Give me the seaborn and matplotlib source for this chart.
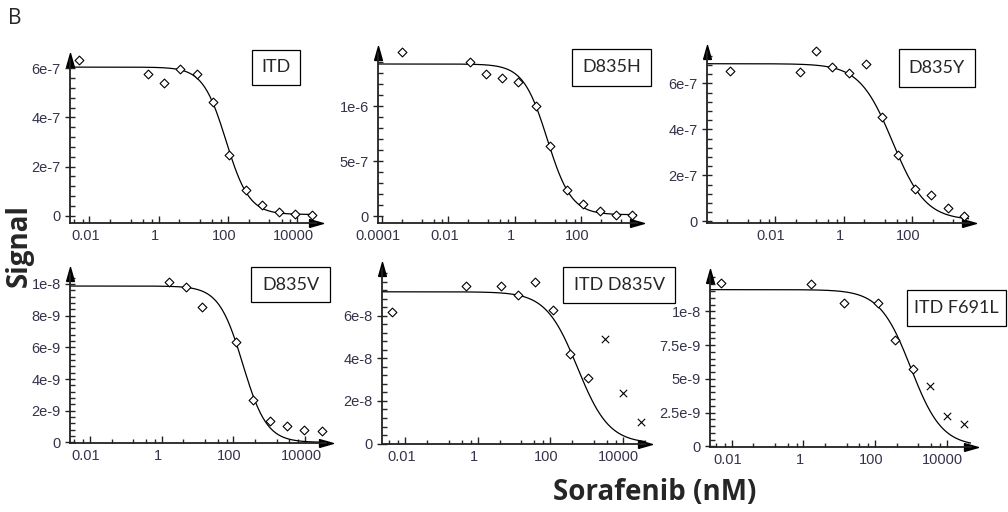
import numpy as np
import matplotlib
matplotlib.use("Agg")
import matplotlib.pyplot as plt
import matplotlib.transforms as mtransforms
from matplotlib.ticker import FixedLocator, MultipleLocator, FuncFormatter, NullFormatter
from matplotlib.patches import Rectangle
import seaborn as sns

# panel titles
panels = ["ITD", "D835H", "D835Y", "D835V", "ITD D835V", "ITD F691L"]

# sorafenib (nM) and signal
itd_conc = [0.005, 0.51, 1.48, 4.3, 12.6, 38, 110, 331, 1000, 2950, 8700, 26900]
itd_sig = [6.34e-7, 5.78e-7, 5.41e-7, 5.96e-7, 5.78e-7, 4.64e-7, 2.46e-7, 1.06e-7, 0.42e-7, 0.15e-7, 0.08e-7, 0.04e-7]

d835h_conc = [0.0004, 0.045, 0.135, 0.42, 1.26, 4.2, 11.7, 37, 112, 363, 1100, 3310]
d835h_sig = [1.494e-6, 1.40e-6, 1.297e-6, 1.255e-6, 1.221e-6, 1.006e-6, 0.642e-6, 0.236e-6, 0.112e-6, 0.045e-6, 0.015e-6, 0.015e-6]

d835y_conc = [0.00049, 0.054, 0.16, 0.47, 1.41, 4.5, 12.9, 39, 123, 355, 1100, 3240]
d835y_sig = [6.53e-7, 6.50e-7, 7.40e-7, 6.73e-7, 6.45e-7, 6.84e-7, 4.54e-7, 2.89e-7, 1.43e-7, 1.17e-7, 0.58e-7, 0.22e-7]

d835v_conc = [1.55, 4.6, 13.5, 120, 339, 1070, 3090, 9550, 28800]
d835v_sig = [10.1e-9, 9.83e-9, 8.54e-9, 6.32e-9, 2.66e-9, 1.34e-9, 1.05e-9, 0.77e-9, 0.71e-9]

itd_d835v_conc = [0.0043, 0.46, 4.3, 12.6, 38, 117, 355, 1070]
itd_d835v_sig = [6.15e-8, 7.37e-8, 7.41e-8, 6.96e-8, 7.57e-8, 6.28e-8, 4.2e-8, 3.08e-8]
itd_d835v_excl_conc = [3310, 10000, 30900]
itd_d835v_excl_sig = [4.9e-8, 2.35e-8, 1.01e-8]

itd_f691l_conc = [0.005, 1.58, 13.5, 120, 372, 1150]
itd_f691l_sig = [12.12e-9, 12.02e-9, 10.6e-9, 10.6e-9, 7.9e-9, 5.7e-9]
itd_f691l_excl_conc = [3470, 10000, 30200]
itd_f691l_excl_sig = [4.44e-9, 2.25e-9, 1.65e-9]

# fitted dose-response curves (top, bottom, log10 IC50, hill slope)
fit_top = [6.05e-7, 1.385e-6, 6.86e-7, 9.87e-9, 7.12e-8, 1.16e-8]
fit_bottom = [5e-9, 1.5e-8, 5e-9, 0, 0, 0]
fit_logic50 = [1.95, 0.98, 1.43, 2.26, 2.75, 3.0]
fit_hill = [1.3, 1.2, 0.9, 1.3, 1.0, 1.0]

conc = [itd_conc, d835h_conc, d835y_conc, d835v_conc, itd_d835v_conc, itd_f691l_conc]
sig = [itd_sig, d835h_sig, d835y_sig, d835v_sig, itd_d835v_sig, itd_f691l_sig]
excl_conc = [[], [], [], [], itd_d835v_excl_conc, itd_f691l_excl_conc]
excl_sig = [[], [], [], [], itd_d835v_excl_sig, itd_f691l_excl_sig]

# y ticks
ymajor = [[0, 2e-7, 4e-7, 6e-7], [0, 5e-7, 1e-6], [0, 2e-7, 4e-7, 6e-7],
          [0, 2e-9, 4e-9, 6e-9, 8e-9, 1e-8], [0, 2e-8, 4e-8, 6e-8],
          [0, 2.5e-9, 5e-9, 7.5e-9, 1e-8]]
yminor = [4e-8, 1e-7, 4e-8, 4e-10, 4e-9, 5e-10]

sns.set_style("white")
plt.rcParams["font.family"] = ["Liberation Sans", "DejaVu Sans"]

W, H = 1008, 512
fig = plt.figure(figsize=(W / 100, H / 100), dpi=100)

# axes boxes in pixels: left, right, bottom, top (arrow centres)
boxes = [(70, 316, 223, 60), (378, 637, 223, 53), (707, 969, 223, 52),
         (70, 326, 443, 274), (382, 645, 444, 269), (710, 971, 447, 276)]
xlims = [(-2.56, 4.55), (-4.12, 3.68), (-3.99, 3.66), (-2.56, 4.58), (-2.64, 4.61), (-2.61, 4.68)]
ylims = [(-0.297e-7, 6.34e-7), (-0.06e-6, 1.485e-6), (-0.069e-7, 7.37e-7),
         (-0.04e-9, 10.63e-9), (-0.02e-8, 8.19e-8), (-0.05e-9, 12.61e-9)]
label_boxes = [(252, 50, 300, 85), (572, 49, 651, 86), (899, 49, 975, 87),
               (251, 267, 330, 302), (563, 267, 675, 303), (907, 290, 1006, 326)]


def yfmt(v, pos):
    if abs(v) < 1e-20:
        return "0"
    mant, exp = f"{v:g}".split("e")
    return f"{mant}e{int(exp)}"


arrow_right = [(-0.5, -0.28), (0.5, 0.0), (-0.5, 0.28), (-0.5, -0.28)]
arrow_up = [(-0.28, -0.5), (0.0, 0.5), (0.28, -0.5), (-0.28, -0.5)]
xlab_shift = mtransforms.ScaledTranslation(-4 / 100, 0, fig.dpi_scale_trans)

for i, name in enumerate(panels):
    l, r, b, t = boxes[i]
    ax = fig.add_axes([l / W, 1 - b / H, (r - l) / W, (b - t) / H])
    ax.set_xscale("log")

    lo, hi = xlims[i]
    xs = np.logspace(lo, hi, 300)
    curve = fit_bottom[i] + (fit_top[i] - fit_bottom[i]) / (1 + 10 ** ((np.log10(xs) - fit_logic50[i]) * fit_hill[i]))
    sns.lineplot(x=xs, y=curve, ax=ax, color="black", lw=0.9, sort=False, errorbar=None)
    sns.scatterplot(x=conc[i], y=sig[i], ax=ax, marker="D", s=20, facecolor="white",
                    edgecolor="black", linewidth=0.8, clip_on=False, zorder=3)
    if len(excl_conc[i]):
        sns.scatterplot(x=excl_conc[i], y=excl_sig[i], ax=ax, marker="x", s=28,
                        color="black", linewidth=0.8, clip_on=False, zorder=3)

    ax.set_xlim(10 ** lo, 10 ** hi)
    ax.set_ylim(*ylims[i])

    majors = [m for m in [1e-4, 1e-2, 1, 100, 1e4] if 10 ** lo <= m <= 10 ** hi]
    minors = [m * k for m in [1e-6, 1e-4, 1e-2, 1, 100, 1e4] for k in [4, 16, 36, 64]
              if 10 ** lo <= m * k <= 10 ** hi]
    ax.xaxis.set_major_locator(FixedLocator(majors))
    ax.xaxis.set_minor_locator(FixedLocator(minors))
    ax.xaxis.set_major_formatter(FuncFormatter(lambda v, p: f"{v:g}"))
    ax.xaxis.set_minor_formatter(NullFormatter())
    ax.yaxis.set_major_locator(FixedLocator(ymajor[i]))
    ax.yaxis.set_minor_locator(MultipleLocator(yminor[i]))
    ax.yaxis.set_major_formatter(FuncFormatter(yfmt))

    ax.tick_params(axis="x", which="major", direction="in", length=5, width=1, pad=4,
                   labelsize=10.5, labelcolor="#33334a", color="#222222", bottom=True)
    ax.tick_params(axis="x", which="minor", direction="in", length=3, width=1, bottom=True)
    ax.tick_params(axis="y", which="major", direction="inout", length=7, width=1, pad=3,
                   labelsize=10.5, labelcolor="#33334a", color="#222222", left=True)
    ax.tick_params(axis="y", which="minor", direction="in", length=3.5, width=1, left=True)
    for lab in ax.get_xticklabels():
        lab.set_transform(lab.get_transform() + xlab_shift)

    sns.despine(ax=ax)
    for side in ["left", "bottom"]:
        ax.spines[side].set_linewidth(1.3)
        ax.spines[side].set_color("#222222")
    ax.patch.set_alpha(0)
    ax.plot([1], [0], marker=arrow_right, ms=10, color="black", transform=ax.transAxes, clip_on=False)
    ax.plot([0], [1], marker=arrow_up, ms=10, color="black", transform=ax.transAxes, clip_on=False)
    ax.set_xlabel("")
    ax.set_ylabel("")

    x0, y0, x1, y1 = label_boxes[i]
    fig.add_artist(Rectangle((x0 / W, 1 - y1 / H), (x1 - x0) / W, (y1 - y0) / H,
                             transform=fig.transFigure, fill=False, ec="black", lw=0.9))
    fig.text((x0 + x1) / 2 / W, 1 - (y0 + y1) / 2 / H, name, ha="center", va="center",
             fontsize=13, family=["Lato", "DejaVu Sans"])

fig.text(8 / W, 1 - 19 / H, "B", ha="left", va="center", fontsize=15, family=["Open Sans", "DejaVu Sans"])
fig.text(19 / W, 1 - 246 / H, "Signal", rotation=90, ha="center", va="center",
         fontsize=20, fontweight="bold", family=["Open Sans", "DejaVu Sans"])
fig.text(655 / W, 1 - 493 / H, "Sorafenib (nM)", ha="center", va="center",
         fontsize=20, fontweight="bold", family=["Open Sans", "DejaVu Sans"])

fig.savefig("out.png", dpi=100)
